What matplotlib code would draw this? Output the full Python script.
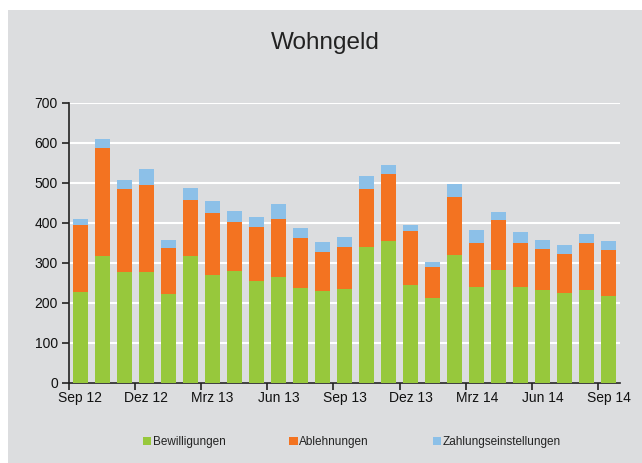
import numpy as np
import matplotlib.pyplot as plt
from matplotlib.patches import Rectangle

months = ['Sep 12', 'Okt 12', 'Nov 12', 'Dez 12', 'Jan 13', 'Feb 13', 'Mrz 13',
          'Apr 13', 'Mai 13', 'Jun 13', 'Jul 13', 'Aug 13', 'Sep 13', 'Okt 13',
          'Nov 13', 'Dez 13', 'Jan 14', 'Feb 14', 'Mrz 14', 'Apr 14', 'Mai 14',
          'Jun 14', 'Jul 14', 'Aug 14', 'Sep 14']
bewilligungen = [227, 317, 278, 278, 223, 317, 270, 281, 254, 266, 238, 231, 236,
                 339, 354, 246, 213, 319, 241, 283, 239, 233, 226, 233, 218]
ablehnungen = [167, 270, 206, 217, 115, 140, 154, 122, 135, 143, 125, 96, 105,
               146, 168, 133, 76, 146, 108, 124, 110, 103, 97, 118, 114]
zahlungseinst = [17, 23, 24, 41, 20, 31, 30, 28, 27, 38, 25, 25, 23,
                 33, 23, 16, 14, 33, 34, 21, 29, 22, 23, 22, 23]

plt.rcParams['font.family'] = ['Liberation Sans', 'DejaVu Sans']

bg = '#dcdddf'
green = '#97c83c'
orange = '#f37321'
blue = '#8cc0e8'

fig = plt.figure(figsize=(6.42, 4.63), dpi=100)
fig.patch.set_facecolor('white')
fig.patches.append(Rectangle((8 / 642, 0), 1, 1 - 10 / 463, transform=fig.transFigure,
                             facecolor=bg, edgecolor='none', zorder=-10))

ax = fig.add_axes([69 / 642, 80 / 463, 551 / 642, 280 / 463])
ax.set_facecolor(bg)

x = np.arange(len(months))
b1 = np.array(bewilligungen)
b2 = np.array(ablehnungen)
b3 = np.array(zahlungseinst)
w = 0.68
ax.bar(x, b1, w, color=green, label='Bewilligungen', zorder=3)
ax.bar(x, b2, w, bottom=b1, color=orange, label='Ablehnungen', zorder=3)
ax.bar(x, b3, w, bottom=b1 + b2, color=blue, label='Zahlungseinstellungen', zorder=3)

ax.set_xlim(-0.5, len(months) - 0.5)
ax.set_ylim(0, 700)
ax.set_yticks(range(0, 701, 100))
ax.grid(axis='y', color='white', linewidth=1.5, zorder=0)

# ticks between categories, labels every third month
ax.set_xticks(np.arange(-0.5, 24, 3))
ax.set_xticklabels([])
ax.set_xticks(x[::3], minor=True)
ax.set_xticklabels(months[::3], minor=True)
ax.tick_params(axis='x', which='major', length=5, width=1.2, color='#222222')
ax.tick_params(axis='x', which='minor', length=0, pad=6, labelsize=10, labelcolor='#111111')
ax.tick_params(axis='y', length=5, width=1.2, color='#222222', labelsize=10,
               labelcolor='#111111', pad=3)

for s in ['top', 'right']:
    ax.spines[s].set_visible(False)
for s in ['left', 'bottom']:
    ax.spines[s].set_color('#222222')
    ax.spines[s].set_linewidth(1.2)

fig.text(0.507, 0.907, 'Wohngeld', ha='center', va='center', fontsize=17.5, color='#222222')

fig.legend(loc='center', bbox_to_anchor=(0.548, 0.045), ncol=3, frameon=False,
           fontsize=8.5, handlelength=0.7, handleheight=0.7, handletextpad=0.15,
           columnspacing=5.4, labelcolor='#222222')

plt.savefig('out.png', dpi=100, facecolor=fig.get_facecolor())
